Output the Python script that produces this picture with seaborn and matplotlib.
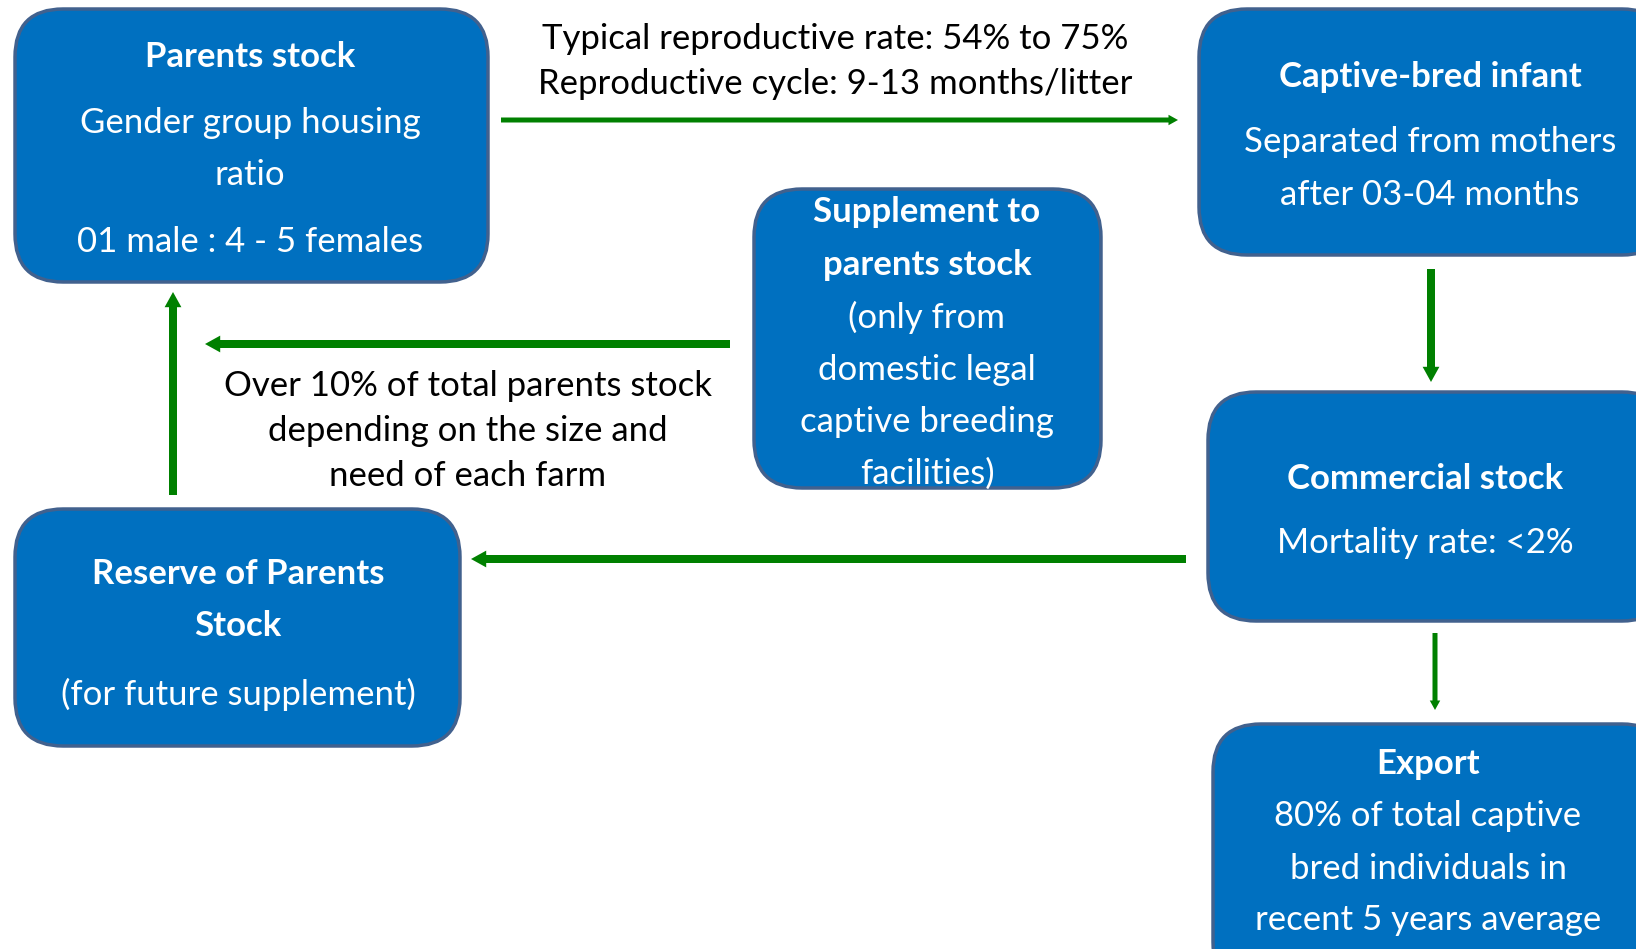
import matplotlib.pyplot as plt
import seaborn as sns
from matplotlib.patches import FancyBboxPatch

sns.set_theme(style="white")
plt.rcParams["font.family"] = ["Lato", "DejaVu Sans"]

# box content: each box has a list of lines and whether each line is bold
box_names = ["parents", "infant", "supplement", "commercial", "reserve", "export"]
box_lines = {
    "parents": ["Parents stock", "Gender group housing", "ratio", "01 male : 4 - 5 females"],
    "infant": ["Captive-bred infant", "Separated from mothers", "after 03-04 months"],
    "supplement": ["Supplement to", "parents stock", "(only from", "domestic legal",
                   "captive breeding", "facilities)"],
    "commercial": ["Commercial stock", "Mortality rate: <2%"],
    "reserve": ["Reserve of Parents", "Stock", "(for future supplement)"],
    "export": ["Export", "80% of total captive", "bred individuals in",
               "recent 5 years average"],
}
box_bold = {
    "parents": [True, False, False, False],
    "infant": [True, False, False],
    "supplement": [True, True, False, False, False, False],
    "commercial": [True, False],
    "reserve": [True, True, False],
    "export": [True, False, False, False],
}

# arrow annotations
top_note = ["Typical reproductive rate: 54% to 75%", "Reproductive cycle: 9-13 months/litter"]
mid_note = ["Over 10% of total parents stock", "depending on the size and", "need of each farm"]

# layout in pixel units (x0, y0, x1, y1), y grows downward
box_rect = {
    "parents": (15, 9, 488, 282),
    "infant": (1199, 9, 1670, 255),
    "supplement": (754, 189, 1101, 488),
    "commercial": (1208, 392, 1670, 621),
    "reserve": (15, 509, 460, 746),
    "export": (1213, 724, 1670, 990),
}
box_text_x = {"parents": 250, "infant": 1430, "supplement": 927,
              "commercial": 1425, "reserve": 238, "export": 1428}
box_text_y = {
    "parents": [57, 123, 175, 242],
    "infant": [77, 142, 195],
    "supplement": [212, 265, 317, 370, 422, 474],
    "commercial": [479, 543],
    "reserve": [574, 626, 694],
    "export": [764, 816, 869, 920],
}

# arrows: (x_start, y_start, x_end, y_end, shaft width)
arrows = [
    (501, 120, 1178, 120, 5),
    (1431, 269, 1431, 382, 8),
    (730, 344, 205, 344, 8),
    (173, 495, 173, 292, 8),
    (1186, 559, 471, 559, 8),
    (1435, 633, 1435, 710, 5),
]

BOX_FILL = "#0070C0"
BOX_EDGE = "#41618E"
ARROW_GREEN = "#008000"
FONT_SIZE = 25
W, H = 1636, 949

fig = plt.figure(figsize=(W / 100, H / 100), dpi=100)
ax = fig.add_axes([0, 0, 1, 1])
ax.set_xlim(0, W)
ax.set_ylim(H, 0)
ax.axis("off")

for name in box_names:
    x0, y0, x1, y1 = box_rect[name]
    ax.add_patch(FancyBboxPatch(
        (x0, y0), x1 - x0, y1 - y0,
        boxstyle="round,pad=0,rounding_size=48",
        facecolor=BOX_FILL, edgecolor=BOX_EDGE, linewidth=2.5, zorder=2,
    ))
    for line, bold, y in zip(box_lines[name], box_bold[name], box_text_y[name]):
        ax.text(box_text_x[name], y, line, color="white", fontsize=FONT_SIZE,
                fontweight="bold" if bold else "normal",
                ha="center", va="center", zorder=3)

for (xs, ys, xe, ye, w) in arrows:
    ax.arrow(xs, ys, xe - xs, ye - ys, width=w, head_width=w * 2.1,
             head_length=w * 1.9, length_includes_head=True,
             color=ARROW_GREEN, linewidth=0, zorder=1)

for line, y in zip(top_note, [39, 84]):
    ax.text(835, y, line, color="black", fontsize=FONT_SIZE, ha="center", va="center")
for line, y in zip(mid_note, [386, 431, 476]):
    ax.text(468, y, line, color="black", fontsize=FONT_SIZE, ha="center", va="center")

fig.savefig("out.png", dpi=100)
plt.close(fig)
